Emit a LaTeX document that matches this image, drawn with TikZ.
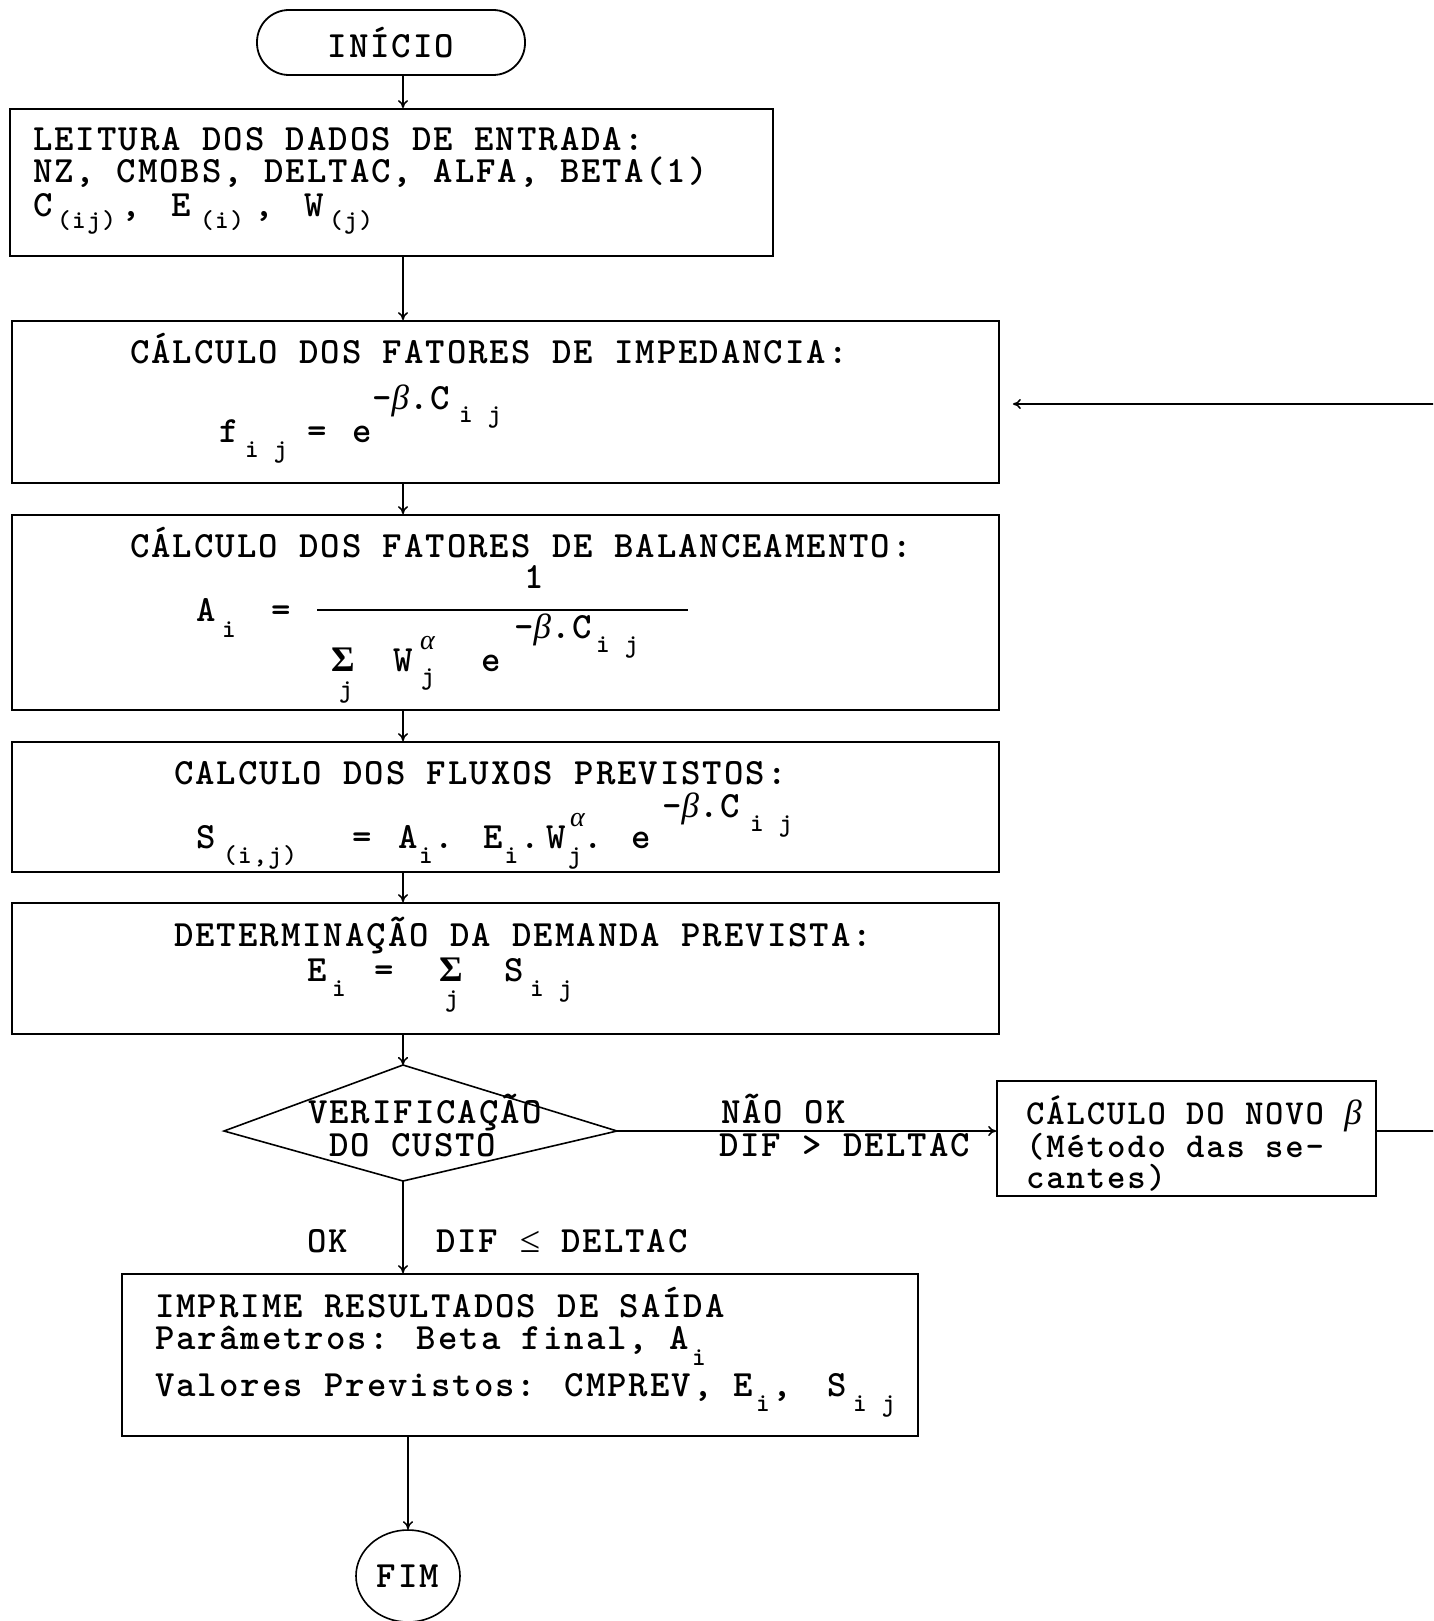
\documentclass[tikz,border=0pt]{standalone}
\usepackage{fontspec}
\usetikzlibrary{arrows.meta,shapes.geometric,calc}
\newfontfamily\tw{lmmonolt10-bold.otf}[LetterSpace=5.3]
\newfontfamily\grk{Liberation Serif}
\newcommand\mainf{\tw\fontsize{37}{44}\selectfont}
\newcommand\sixf{\tw\fontsize{35}{42}\selectfont}
\newcommand\subf{\tw\fontsize{26}{30}\selectfont}
\newcommand\bet{{\grk\itshape\fontsize{35}{40}\selectfont β}}
\begin{document}
\begin{tikzpicture}[x=1pt,y=-1pt,
  box/.style={draw, line width=1.8pt, inner sep=0pt},
  ln/.style={line width=1.6pt},
  arr/.style={-{To[length=8pt,width=10pt]}, line width=1.5pt},
  t/.style={anchor=base west, inner sep=0pt, font=\mainf},
  t6/.style={anchor=base west, inner sep=0pt, font=\sixf},
  s/.style={anchor=base west, inner sep=0pt, font=\subf},
  sig/.style={anchor=base west, inner sep=0pt, font=\grk\bfseries\fontsize{36}{40}\selectfont},
  alp/.style={anchor=base west, inner sep=0pt, font=\grk\itshape\fontsize{28}{30}\selectfont}]
\useasboundingbox (0,0) rectangle (1433,1621);
\clip (0,0) rectangle (1433,1621);
\fill[white] (0,0) rectangle (1433,1621);

% shapes
\node[draw, line width=1.8pt, rounded corners=32pt, minimum width=268pt, minimum height=65pt, inner sep=0pt, font=\mainf] (ini) at (391,42.5) {INÍCIO};
\node[box, minimum width=763pt, minimum height=147pt] (b1) at (391.5,182.5) {};
\node[box, minimum width=987pt, minimum height=162pt] (b2) at (505.5,402) {};
\node[box, minimum width=987pt, minimum height=195pt] (b3) at (505.5,612.5) {};
\node[box, minimum width=987pt, minimum height=130pt] (b4) at (505.5,807) {};
\node[box, minimum width=987pt, minimum height=131pt] (b5) at (505.5,968.5) {};
\coordinate (dt) at (403,1065);
\coordinate (dr) at (617,1131);
\coordinate (db) at (403,1181);
\coordinate (dl) at (224,1131);
\draw[ln] (dt) -- (dr) -- (db) -- (dl) -- cycle;
\node[box, minimum width=379pt, minimum height=115pt] (b6) at (1186.5,1138.5) {};
\node[box, minimum width=796pt, minimum height=162pt] (b7) at (520,1355) {};
\node[draw, line width=1.6pt, ellipse, minimum width=104pt, minimum height=92pt, inner sep=0pt, font=\mainf] (fim) at (408,1576) {FIM};

% connectors
\coordinate (ax) at (403,0);
\coordinate (lpx) at (1445,0);
\coordinate (lp) at (1445,404);
\draw[arr] (ini.south -| ax) -- (b1.north -| ax);
\draw[arr] (b1.south -| ax) -- (b2.north -| ax);
\draw[arr] (b2.south -| ax) -- (b3.north -| ax);
\draw[arr] (b3.south -| ax) -- (b4.north -| ax);
\draw[arr] (b4.south -| ax) -- (b5.north -| ax);
\draw[arr] (b5.south -| ax) -- (dt);
\draw[arr] (dr) -- (b6.west |- dr);
\draw[arr, shorten >=13pt] (b6.east |- dr) -- (lpx |- dr) -- (lp) -- (b2.east |- lp);
\draw[arr] (db) -- (b7.north -| ax);
\draw[arr] (b7.south -| fim.north) -- (fim.north);

% box 1
\node[t] (l1) at (33,151) {LEITURA DOS DADOS DE ENTRADA:};
\node[t] (l2) at (33,183) {NZ, CMOBS, DELTAC, ALFA, BETA(1)};
\node[t] (l3a) at (33,217) {C};
\node[s] (l3b) at (57,229) {(ij)};
\node[t] (l3c) at (121,217) {,};
\node[t] (l3d) at (171,217) {E};
\node[s] (l3e) at (200,229) {(i)};
\node[t] (l3f) at (254,217) {,};
\node[t] (l3g) at (304,217) {W};
\node[s] (l3h) at (329,229) {(j)};

% box 2
\node[t] (h2) at (130,363) {CÁLCULO DOS FATORES DE IMPEDANCIA:};
\node[t] (f2a) at (219,442) {f};
\node[s] (f2b) at (245,457) {i j};
\node[t] (f2c) at (307,442) {=};
\node[t] (f2d) at (352,442) {e};
\node[t] (f2e) at (372,409) {-\bet.C};
\node[s] (f2f) at (459,422) {i j};

% box 3
\node[t] (h3) at (130,557) {CÁLCULO DOS FATORES DE BALANCEAMENTO:};
\node[t, anchor=base] (f3a) at (534,588) {1};
\draw[ln] (317,610) -- (688,610);
\node[t] (f3b) at (196,621) {A};
\node[s] (f3c) at (222,637) {i};
\node[t] (f3d) at (271,621) {=};
\node[sig] (f3e) at (331,671) {Σ};
\node[s] (f3f) at (339,697) {j};
\node[t] (f3g) at (393,671) {W};
\node[alp] (f3h) at (420,649) {α};
\node[s] (f3i) at (421,684) {j};
\node[t] (f3j) at (481,671) {e};
\node[t] (f3k) at (514,638) {-\bet.C};
\node[s] (f3l) at (596,652) {i j};

% box 4
\node[t] (h4) at (174,784) {CALCULO DOS FLUXOS PREVISTOS:};
\node[t] (f4a) at (196,848) {S};
\node[s] (f4b) at (223,863) {(i,j)};
\node[t] (f4c) at (352,848) {=};
\node[t] (f4d) at (398,848) {A};
\node[s] (f4e) at (419,863) {i};
\node[t] (f4f) at (434.5,848) {.};
\node[t] (f4g) at (483,848) {E};
\node[s] (f4h) at (504.5,863) {i};
\node[t] (f4i) at (520,848) {.};
\node[t] (f4j) at (546,848) {W};
\node[alp] (f4k) at (570,826) {α};
\node[s] (f4l) at (568,863) {j};
\node[t] (f4m) at (583.5,848) {.};
\node[t] (f4n) at (631,848) {e};
\node[t] (f4o) at (662,817) {-\bet.C};
\node[s] (f4p) at (750,831) {i j};

% box 5
\node[t] (h5) at (174,946) {DETERMINAÇÃO DA DEMANDA PREVISTA:};
\node[t] (f5a) at (307,981) {E};
\node[s] (f5b) at (332,996) {i};
\node[t] (f5c) at (374,981) {=};
\node[sig] (f5d) at (439,981) {Σ};
\node[s] (f5e) at (445,1006) {j};
\node[t] (f5f) at (504,981) {S};
\node[s] (f5g) at (530,996) {i j};

% decision
\node[t] (d1) at (308,1123) {VERIFICAÇÃO};
\node[t] (d2) at (329,1156) {DO CUSTO};
\node[t] (no1) at (721,1123) {NÃO OK};
\node[t] (no2) at (719,1156) {DIF > DELTAC};
\node[t] (ok1) at (307,1252) {OK};
\node[t] (ok2) at (436,1252) {DIF {\grk ≤} DELTAC};

% box 6
\node[t6] (n1) at (1026,1124) {CÁLCULO DO NOVO \bet};
\node[t6] (n2) at (1026,1157) {(Método das se-};
\node[t6] (n3) at (1026,1188) {cantes)};

% box 7
\node[t] (p1) at (155,1317) {IMPRIME RESULTADOS DE SAÍDA};
\node[t] (p2) at (155,1349) {Parâmetros: Beta final, A};
\node[s] (p2s) at (692,1365) {i};
\node[t] (p3) at (155,1396) {Valores Previstos: CMPREV, E};
\node[s] (p3s) at (756,1411) {i};
\node[t] (p3c) at (772,1396) {,};
\node[t] (p3d) at (827,1396) {S};
\node[s] (p3e) at (853,1411) {i j};
\end{tikzpicture}
\end{document}
